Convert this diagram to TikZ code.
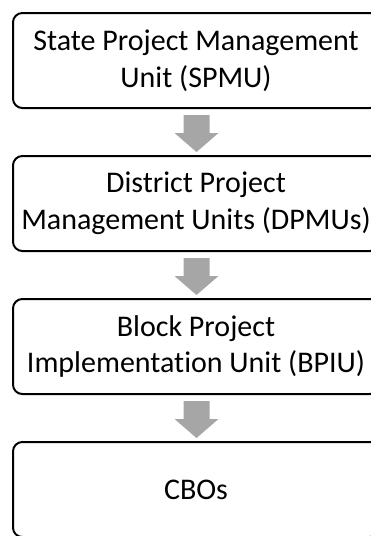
\documentclass[tikz,border=0pt]{standalone}
\usepackage{fontspec}
\setmainfont{Carlito}[Ligatures={NoCommon}]
\usetikzlibrary{calc}
\begin{document}
\begin{tikzpicture}[x=0.75pt,y=-0.75pt,
  unitbox/.style={draw=black,line width=1.5pt,rounded corners=7pt,fill=white,
    minimum width=366*0.75pt,minimum height=95*0.75pt,inner sep=0pt,
    align=center,font=\fontsize{22.5}{27.6}\selectfont},
  flowarrow/.style={fill=black!35,draw=none}]
\useasboundingbox (0,0) rectangle (371,536);
\clip (0,0) rectangle (371,536);

% the four levels of the structure
\node[unitbox] (spmu) at (196,60.5) {State Project Management\\Unit (SPMU)};
\node[unitbox] (dpmu) at (196,203.5) {District Project\\Management Units (DPMUs)};
\node[unitbox] (bpiu) at (196,346.5) {Block Project\\Implementation Unit (BPIU)};
\node[unitbox] (cbo)  at (196,489.5) {CBOs};

% grey block arrows from each level to the next
\foreach \a in {spmu,dpmu,bpiu}{
  \fill[flowarrow] ($(\a.south)+(-12.5,6)$) -- ++(26,0) -- ++(0,18) -- ++(9,0)
    -- ++(-22,19) -- ++(-22,-19) -- ++(9,0) -- cycle;
}
\end{tikzpicture}
\end{document}
